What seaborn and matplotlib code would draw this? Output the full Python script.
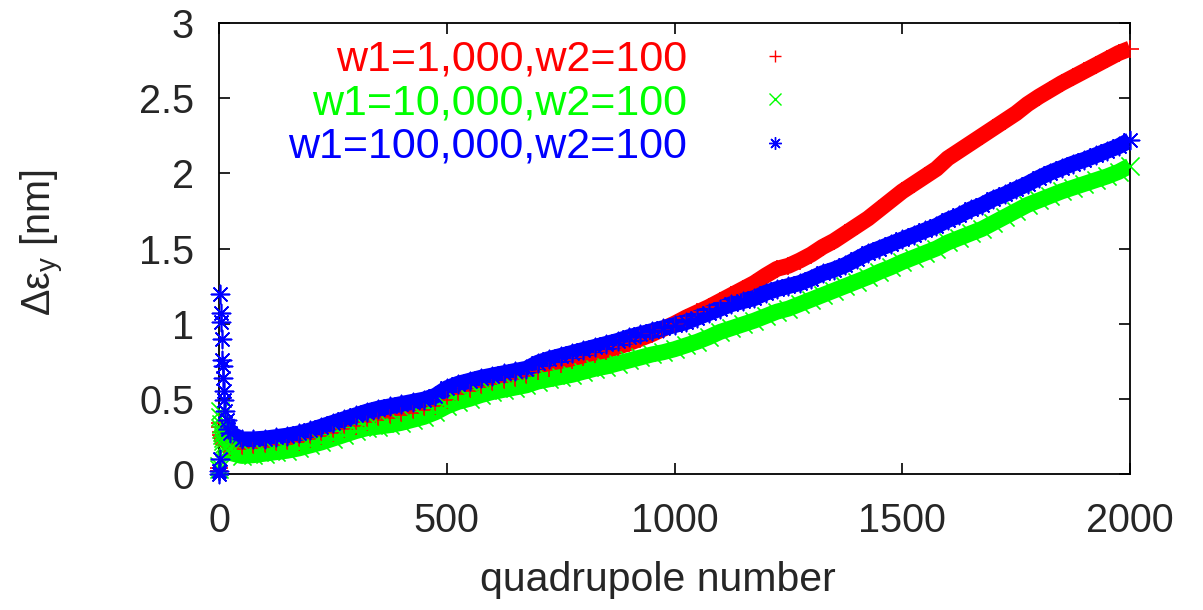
import numpy as np
import pandas as pd
import matplotlib
matplotlib.use("Agg")
import matplotlib.pyplot as plt
from matplotlib.lines import Line2D
import seaborn as sns

# values
# first few quadrupoles (scattered spikes near 0)
q_start = [0, 1, 2, 3, 4, 5, 6, 7, 8, 9, 10, 12, 14, 17, 20]
red_start = [0.02, 0.04, 0.34, 0.31, 0.28, 0.26, 0.25, 0.24, 0.23, 0.22, 0.21, 0.20, 0.19, 0.19, 0.185]
green_start = [0.03, 0.05, 0.42, 0.38, 0.33, 0.30, 0.28, 0.26, 0.24, 0.22, 0.20, 0.18, 0.17, 0.16, 0.15]
blue_start = [0.0, 0.02, 0.10, 1.20, 1.07, 1.01, 0.90, 0.76, 0.72, 0.64, 0.55, 0.49, 0.42, 0.36, 0.30]

# rest of the lattice, every 25 quadrupoles from 25 to 2000
q_main = list(range(25, 2001, 25))
red_main = [0.18, 0.165, 0.17, 0.18, 0.19, 0.20, 0.215, 0.235, 0.255, 0.275,
            0.30, 0.32, 0.345, 0.36, 0.375, 0.39, 0.405, 0.425, 0.45, 0.495,
            0.53, 0.555, 0.58, 0.60, 0.615, 0.635, 0.655, 0.685, 0.705, 0.73,
            0.76, 0.78, 0.80, 0.82, 0.845, 0.87, 0.90, 0.93, 0.965, 1.00,
            1.04, 1.075, 1.11, 1.15, 1.19, 1.23, 1.27, 1.32, 1.365, 1.385,
            1.42, 1.46, 1.51, 1.55, 1.60, 1.65, 1.70, 1.76, 1.82, 1.88,
            1.93, 1.98, 2.03, 2.10, 2.15, 2.20, 2.25, 2.30, 2.35, 2.40,
            2.46, 2.51, 2.555, 2.60, 2.64, 2.68, 2.72, 2.76, 2.80, 2.83]
green_main = [0.14, 0.12, 0.125, 0.135, 0.145, 0.155, 0.17, 0.19, 0.21, 0.235,
              0.26, 0.285, 0.305, 0.315, 0.325, 0.34, 0.36, 0.38, 0.41, 0.45,
              0.48, 0.50, 0.525, 0.545, 0.56, 0.575, 0.59, 0.615, 0.63, 0.645,
              0.66, 0.68, 0.70, 0.715, 0.735, 0.755, 0.775, 0.795, 0.81, 0.83,
              0.855, 0.88, 0.91, 0.945, 0.97, 0.995, 1.02, 1.05, 1.08, 1.10,
              1.13, 1.16, 1.19, 1.22, 1.25, 1.28, 1.31, 1.345, 1.375, 1.41,
              1.44, 1.47, 1.50, 1.54, 1.57, 1.60, 1.63, 1.67, 1.71, 1.75,
              1.79, 1.82, 1.85, 1.88, 1.905, 1.93, 1.955, 1.98, 2.01, 2.05]
blue_main = [0.27, 0.23, 0.23, 0.235, 0.245, 0.255, 0.27, 0.29, 0.315, 0.34,
             0.365, 0.39, 0.415, 0.435, 0.45, 0.465, 0.48, 0.495, 0.52, 0.57,
             0.60, 0.62, 0.64, 0.655, 0.67, 0.685, 0.70, 0.74, 0.765, 0.785,
             0.805, 0.825, 0.845, 0.865, 0.885, 0.91, 0.93, 0.95, 0.97, 0.99,
             1.01, 1.04, 1.07, 1.10, 1.13, 1.15, 1.17, 1.205, 1.23, 1.25,
             1.27, 1.30, 1.335, 1.36, 1.39, 1.43, 1.47, 1.50, 1.53, 1.56,
             1.59, 1.62, 1.65, 1.69, 1.72, 1.76, 1.79, 1.83, 1.86, 1.895,
             1.93, 1.97, 2.005, 2.035, 2.065, 2.09, 2.12, 2.15, 2.18, 2.22]

labels = ["w1=1,000,w2=100", "w1=10,000,w2=100", "w1=100,000,w2=100"]
colors = ["#ff0000", "#00ff00", "#0000ff"]
markers = ["+", "x", (8, 2, 0)]  # gnuplot style +, x and 8-arm asterisk

sns.set_style("ticks")
plt.rcParams['font.family'] = ['Liberation Sans', 'DejaVu Sans']
plt.rcParams['axes.linewidth'] = 1.3

fig = plt.figure(figsize=(12.03, 6.10), dpi=100)
ax = fig.add_axes([219/1203, 136/610, 911/1203, 451/610])

series = [(red_start, red_main), (green_start, green_main), (blue_start, blue_main)]
for (start, main), col, mk in zip(series, colors, markers):
    df = pd.DataFrame({'q': q_start[-2:] + q_main, 'v': start[-2:] + main})
    sns.lineplot(data=df, x='q', y='v', color=col, linewidth=11.5, ax=ax,
                 sort=False, legend=False, solid_capstyle='butt')
    pts = pd.DataFrame({'q': q_start + q_main, 'v': start + main})
    sns.scatterplot(data=pts, x='q', y='v', color=col, marker=mk, s=170,
                    linewidth=1.2, ax=ax, legend=False, clip_on=False, zorder=3)

ax.set_xlim(0, 2000)
ax.set_ylim(0, 3)
ax.set_xticks([0, 500, 1000, 1500, 2000])
ax.set_yticks([0, 0.5, 1, 1.5, 2, 2.5, 3])
ax.set_yticklabels(["0", "0.5", "1", "1.5", "2", "2.5", "3"])
ax.tick_params(direction='in', top=True, right=True, length=8, width=1.2,
               labelsize=28.5, color='black')
ax.tick_params(axis='x', pad=20)
ax.tick_params(axis='y', pad=18)
for sp in ax.spines.values():
    sp.set_visible(True)
    sp.set_color('black')

ax.set_xlabel("quadrupole number", fontsize=29.5)
ax.set_ylabel("Δε$_{\\mathregular{y}}$ [nm]", fontsize=28.5)
ax.xaxis.set_label_coords(0.482, -0.193)
ax.yaxis.set_label_coords(-0.168, 0.514)

handles = [Line2D([], [], color=c, marker=m, linestyle='None', markersize=9,
                  markeredgewidth=1.0) for c, m in zip(colors, markers)]
leg = ax.legend(handles, labels, loc='upper right', markerfirst=False,
                bbox_to_anchor=(786/1203, 1 - 40/610), bbox_transform=fig.transFigure,
                frameon=False, fontsize=31, handlelength=0.5, handletextpad=1.8,
                labelspacing=0.08, borderpad=0, borderaxespad=0)
for t, c in zip(leg.get_texts(), colors):
    t.set_color(c)

fig.savefig("out.png", dpi=100)
